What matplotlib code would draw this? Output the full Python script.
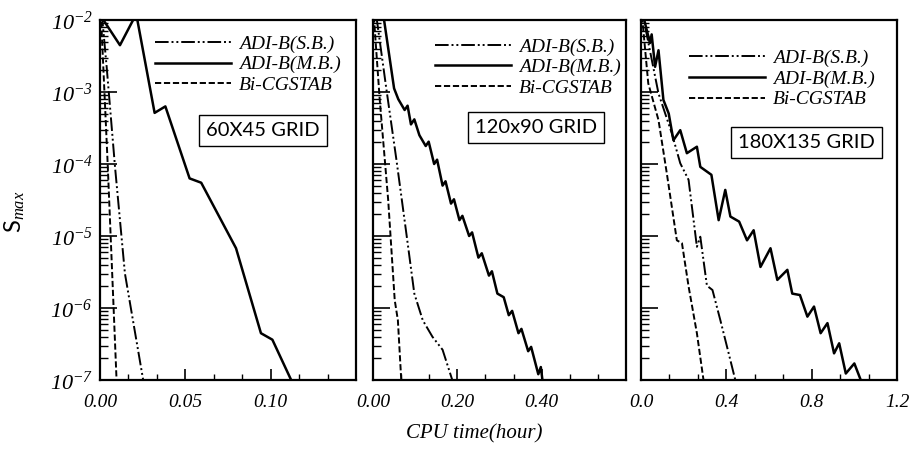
import numpy as np
import matplotlib
matplotlib.use("Agg")
import matplotlib.pyplot as plt
from matplotlib.ticker import MultipleLocator, LogLocator, FixedLocator, FuncFormatter, NullFormatter
from matplotlib.lines import Line2D

plt.rcParams['mathtext.fontset'] = 'custom'
plt.rcParams['mathtext.rm'] = 'Liberation Serif:italic'
plt.rcParams['mathtext.it'] = 'Liberation Serif:italic'
plt.rcParams['mathtext.sf'] = 'Lato'

# ---------------- data (CPU time in hours, log10 of S_max) ----------------
# Panel 1: 60X45 grid
p1_mb_x = [0.002, 0.0117, 0.0205, 0.0215, 0.032, 0.0383, 0.0525, 0.0593, 0.0797, 0.0943, 0.101, 0.112, 0.116]
p1_mb_y = [-2.0, -2.35, -1.95, -1.95, -3.29, -3.20, -4.20, -4.26, -5.17, -6.35, -6.44, -7.0, -7.2]
p1_sb_x = [0.001, 0.0039, 0.0088, 0.0146, 0.0253, 0.027]
p1_sb_y = [-1.9, -2.65, -4.04, -5.52, -7.0, -7.2]
p1_bi_x = [0.0005, 0.0045, 0.0078, 0.0097, 0.010]
p1_bi_y = [-1.9, -4.0, -5.9, -7.0, -7.2]

# Panel 2: 120x90 grid
p2_mb_x = [0.025, 0.040, 0.050, 0.060, 0.075, 0.082, 0.090, 0.098, 0.110, 0.125, 0.132, 0.145,
           0.152, 0.165, 0.172, 0.185, 0.192, 0.205, 0.212, 0.228, 0.235, 0.250, 0.258, 0.275,
           0.282, 0.295, 0.310, 0.322, 0.330, 0.345, 0.352, 0.368, 0.375, 0.392, 0.398, 0.405]
p2_mb_y = [-1.95, -2.55, -2.95, -3.10, -3.25, -3.19, -3.45, -3.38, -3.60, -3.75, -3.69, -4.00,
           -3.94, -4.30, -4.24, -4.55, -4.49, -4.78, -4.72, -5.00, -4.95, -5.30, -5.24, -5.55,
           -5.49, -5.80, -5.85, -6.10, -6.04, -6.35, -6.29, -6.60, -6.54, -6.92, -6.82, -7.15]
p2_sb_x = [0.008, 0.032, 0.0555, 0.079, 0.098, 0.118, 0.141, 0.165, 0.188, 0.192]
p2_sb_y = [-1.95, -2.97, -3.94, -4.96, -5.80, -6.17, -6.40, -6.58, -7.0, -7.1]
p2_bi_x = [0.002, 0.016, 0.036, 0.0515, 0.059, 0.067, 0.069]
p2_bi_y = [-1.95, -3.11, -4.50, -5.89, -6.17, -7.0, -7.1]

# Panel 3: 180X135 grid
p3_mb_x = [0.011, 0.042, 0.050, 0.066, 0.082, 0.105, 0.130, 0.152, 0.184, 0.215, 0.262, 0.278,
           0.330, 0.364, 0.395, 0.419, 0.460, 0.497, 0.528, 0.560, 0.607, 0.639, 0.686, 0.709,
           0.745, 0.780, 0.811, 0.842, 0.874, 0.905, 0.929, 0.960, 1.000, 1.030, 1.040]
p3_mb_y = [-1.95, -2.32, -2.20, -2.65, -2.42, -3.11, -3.30, -3.67, -3.53, -3.85, -3.76, -4.04,
           -4.15, -4.78, -4.36, -4.73, -4.80, -5.06, -4.92, -5.43, -5.17, -5.61, -5.47, -5.80,
           -5.82, -6.12, -5.98, -6.35, -6.21, -6.63, -6.49, -6.91, -6.77, -7.0, -7.2]
p3_sb_x = [0.020, 0.082, 0.144, 0.184, 0.223, 0.262, 0.278, 0.309, 0.335, 0.372, 0.411, 0.442, 0.450]
p3_sb_y = [-2.1, -3.02, -3.57, -3.99, -4.22, -5.15, -5.01, -5.69, -5.75, -6.17, -6.63, -7.0, -7.2]
p3_bi_x = [0.005, 0.034, 0.082, 0.121, 0.168, 0.192, 0.223, 0.262, 0.293, 0.300]
p3_bi_y = [-1.95, -2.88, -3.39, -4.13, -5.06, -5.10, -5.70, -6.35, -7.0, -7.2]

labels = ['ADI-B(S.B.)', 'ADI-B(M.B.)', 'Bi-CGSTAB']
grid_names = ['60X45 GRID', '120x90 GRID', '180X135 GRID']
x_limits = [0.15, 0.6, 1.2]
x_major = [0.05, 0.2, 0.4]
x_ticklabels = [['0.00', '0.05', '0.10', ''], ['0.00', '0.20', '0.40', ''], ['0.0', '0.4', '0.8', '1.2']]

panels = [
    (p1_sb_x, p1_sb_y, p1_mb_x, p1_mb_y, p1_bi_x, p1_bi_y),
    (p2_sb_x, p2_sb_y, p2_mb_x, p2_mb_y, p2_bi_x, p2_bi_y),
    (p3_sb_x, p3_sb_y, p3_mb_x, p3_mb_y, p3_bi_x, p3_bi_y),
]

# ---------------- styling ----------------
sb_ls = (0, (7, 1.5, 1, 1.5, 1, 1.5))
bi_ls = (0, (3.2, 1.4))
serif_it = dict(family='Liberation Serif', style='italic')

fig = plt.figure(figsize=(9.12, 4.62), dpi=100)
fig.patch.set_facecolor('white')

ax_lefts = [100 / 912, 373 / 912, 641 / 912]
ax_widths = [256 / 912, 253 / 912, 256 / 912]
bottom = 1 - 380 / 462
height = 360 / 462

leg_anchor = [(0.215, 0.958), (0.245, 0.95), (0.1875, 0.918)]
box_pos = [(0.637, 0.692), (0.644, 0.701), (0.645, 0.66)]

for i in range(3):
    ax = fig.add_axes([ax_lefts[i], bottom, ax_widths[i], height])
    sbx, sby, mbx, mby, bix, biy = panels[i]
    ax.plot(sbx, 10.0 ** np.array(sby), color='black', lw=1.4, ls=sb_ls)
    ax.plot(mbx, 10.0 ** np.array(mby), color='black', lw=1.8, ls='-')
    ax.plot(bix, 10.0 ** np.array(biy), color='black', lw=1.4, ls=bi_ls)

    ax.set_yscale('log')
    ax.set_ylim(1e-7, 1e-2)
    ax.set_xlim(0, x_limits[i])

    ax.xaxis.set_major_locator(FixedLocator([k * x_major[i] for k in range(4)]))
    ax.set_xticklabels(x_ticklabels[i], fontsize=14, **serif_it)
    ax.xaxis.set_minor_locator(MultipleLocator(x_major[i] / 3))

    ax.yaxis.set_major_locator(LogLocator(base=10, numticks=10))
    ax.yaxis.set_minor_locator(LogLocator(base=10, subs=np.arange(2, 10), numticks=20))
    ax.yaxis.set_minor_formatter(NullFormatter())
    if i == 0:
        ax.yaxis.set_major_formatter(FuncFormatter(lambda v, p: r'$10^{%d}$' % int(round(np.log10(v)))))
    else:
        ax.yaxis.set_major_formatter(NullFormatter())

    ax.tick_params(axis='both', which='both', direction='in', top=False, right=False)
    ax.tick_params(axis='y', which='major', length=12, width=1.2, pad=5, labelsize=16)
    ax.tick_params(axis='y', which='minor', length=6, width=1.0)
    ax.tick_params(axis='x', which='major', length=8, width=1.2, pad=10)
    ax.tick_params(axis='x', which='minor', length=4, width=1.0)
    for s in ax.spines.values():
        s.set_linewidth(1.6)

    handles = [Line2D([], [], color='black', lw=1.4, ls=sb_ls),
               Line2D([], [], color='black', lw=1.8, ls='-'),
               Line2D([], [], color='black', lw=1.4, ls=bi_ls)]
    ax.legend(handles, labels, loc='upper left', bbox_to_anchor=leg_anchor[i],
              frameon=False, borderaxespad=0, borderpad=0, handlelength=3.9,
              handletextpad=0.4, labelspacing=0.15,
              prop=dict(family='Liberation Serif', style='italic', size=14))

    ax.text(box_pos[i][0], box_pos[i][1], grid_names[i], transform=ax.transAxes,
            ha='center', va='center', fontsize=14.5, family='Lato',
            bbox=dict(boxstyle='square,pad=0.35', facecolor='white', edgecolor='black', lw=1.0))

fig.text(474 / 912, 1 - 434 / 462, 'CPU time(hour)', ha='center', va='center', fontsize=15, **serif_it)
fig.text(15 / 912, 1 - 212 / 462, r'$\mathsf{S}_{max}$', ha='center', va='center',
         fontsize=17, rotation=90)

fig.savefig('out.png', dpi=100, facecolor='white')
